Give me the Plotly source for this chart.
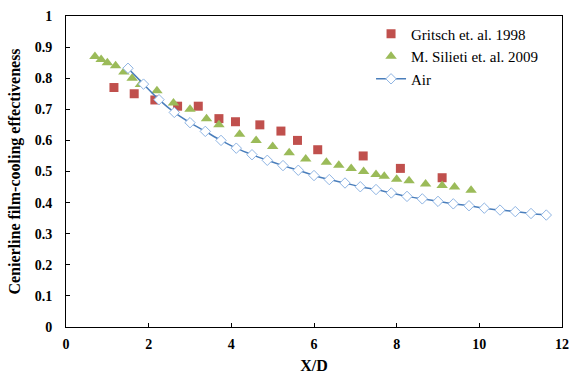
import plotly.graph_objects as go

gritsch_x = [1.16, 1.65, 2.15, 2.7, 3.2, 3.7, 4.1, 4.69, 5.2, 5.6, 6.09, 7.19, 8.09, 9.1]
gritsch_y = [0.77, 0.75, 0.73, 0.71, 0.71, 0.67, 0.66, 0.65, 0.63, 0.60, 0.57, 0.55, 0.51, 0.48]

silieti_x = [0.7, 0.85, 1.0, 1.2, 1.4, 1.6, 1.8, 2.2, 2.6, 3.0, 3.4, 3.7, 4.2, 4.6, 5.0,
             5.4, 5.8, 6.3, 6.6, 6.9, 7.2, 7.5, 7.7, 8.0, 8.3, 8.7, 9.1, 9.4, 9.8]
silieti_y = [0.87, 0.86, 0.85, 0.84, 0.82, 0.80, 0.78, 0.76, 0.72, 0.70, 0.67, 0.65, 0.62, 0.60, 0.58,
             0.56, 0.54, 0.53, 0.52, 0.51, 0.50, 0.49, 0.485, 0.475, 0.47, 0.46, 0.455, 0.45, 0.44]

air_x = [1.5, 1.875, 2.25, 2.62, 3.0, 3.37, 3.75, 4.12, 4.5, 4.87, 5.25, 5.62, 6.0, 6.37,
         6.75, 7.12, 7.5, 7.87, 8.25, 8.62, 9.0, 9.37, 9.75, 10.12, 10.5, 10.87, 11.25, 11.62]
air_y = [0.832, 0.781, 0.731, 0.690, 0.657, 0.629, 0.600, 0.575, 0.554, 0.536, 0.519, 0.504,
         0.487, 0.474, 0.463, 0.451, 0.442, 0.431, 0.420, 0.412, 0.404, 0.396, 0.390, 0.382,
         0.376, 0.371, 0.365, 0.360]

font_family = "Liberation Serif"

fig = go.Figure()
fig.add_trace(go.Scatter(
    x=gritsch_x, y=gritsch_y, mode="markers", name="Gritsch et. al. 1998",
    marker=dict(symbol="square", size=9, color="#c0504d", line=dict(width=0))))
fig.add_trace(go.Scatter(
    x=silieti_x, y=silieti_y, mode="markers", name="M. Silieti et. al. 2009",
    marker=dict(symbol="triangle-up", size=10, color="#9bbb59", line=dict(width=0))))
fig.add_trace(go.Scatter(
    x=air_x, y=air_y, mode="lines+markers", name="Air",
    line=dict(color="#4a7ebb", width=1.5, shape="spline"),
    marker=dict(symbol="diamond", size=8, color="white",
                line=dict(color="#8eb4e3", width=1))))

axis_common = dict(
    showline=True, linecolor="black", linewidth=1, mirror=True,
    ticks="inside", ticklen=4, tickcolor="black", showgrid=False, zeroline=False,
    tickfont=dict(family=font_family, size=14, color="black"),
    automargin=False,
)

fig.update_layout(
    width=570, height=374,
    margin=dict(l=66, r=8, t=16, b=47),
    paper_bgcolor="white", plot_bgcolor="white",
    font=dict(family=font_family, color="black"),
    xaxis=dict(range=[0, 12], dtick=2, tick0=0, ticklabelstandoff=4,
               title=dict(text="<b>X/D</b>", font=dict(family=font_family, size=16), standoff=11),
               tickprefix="<b>", ticksuffix="</b>", **axis_common),
    yaxis=dict(range=[0, 1], dtick=0.1, tick0=0, ticklabelstandoff=10,
               title=dict(text="<b>Cenierline film-cooling effectiveness</b>",
                          font=dict(family=font_family, size=16), standoff=10),
               tickprefix="<b>", ticksuffix="</b>", **axis_common),
    showlegend=True,
    legend=dict(x=0.615, y=0.995, xanchor="left", yanchor="top",
                bgcolor="rgba(0,0,0,0)", borderwidth=0,
                font=dict(family=font_family, size=15, color="black"),
                tracegroupgap=0, itemwidth=30),
)

fig.write_html("out.html", config={"displayModeBar": False},
               post_script="document.body.style.margin='0';document.body.style.overflow='hidden';")
